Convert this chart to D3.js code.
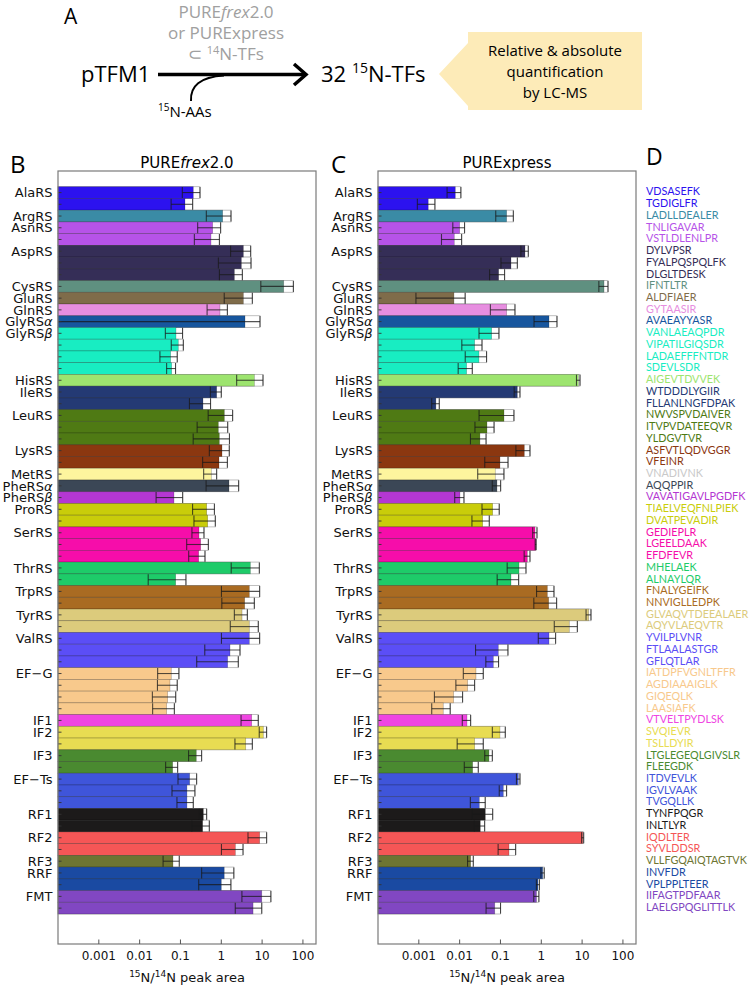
<!DOCTYPE html>
<html><head><meta charset="utf-8">
<script src="https://cdn.jsdelivr.net/npm/d3@7"></script>
<style>body{margin:0;background:#fff}</style>
</head><body>
<svg id="chart" width="749" height="988"></svg>
<script>
// ---------------- DATA ----------------
const proteins = ["AlaRS","ArgRS","AsnRS","AspRS","CysRS","GluRS","GlnRS","GlyRSα","GlyRSβ","HisRS","IleRS","LeuRS","LysRS","MetRS","PheRSα","PheRSβ","ProRS","SerRS","ThrRS","TrpRS","TyrRS","ValRS","EF−G","IF1","IF2","IF3","EF−Ts","RF1","RF2","RF3","RRF","FMT"];
const proteinColors = ["#2c12ef","#3a8ba5","#b653e8","#352e57","#5f9080","#7f6c4a","#e78ee0","#17569e","#18edc2","#9de46f","#243a74","#4f7a14","#8b3710","#fdf59e","#3b4756","#b437d2","#c9cd0a","#f60daa","#1ecb69","#a96b22","#dccb7c","#5b4ef6","#f8c98c","#ef45e2","#e8dc52","#4a8a30","#3f55da","#1c1a1a","#f55656","#6d7532","#1a4aa2","#8147c2"];
const peptides = ["VDSASEFK","TGDIGLFR","LADLLDEALER","TNLIGAVAR","VSTLDLENLPR","DYLVPSR","FYALPQSPQLFK","DLGLTDESK","IFNTLTR","ALDFIAER","GYTAASIR","AVAEAYYASR","VANLAEAQPDR","VIPATILGIQSDR","LADAEFFFNTDR","SDEVLSDR","AIGEVTDVVEK","WTDDDLYGIIR","FLLANLNGFDPAK","NWVSPVDAIVER","ITVPVDATEEQVR","YLDGVTVR","ASFVTLQDVGGR","VFEINR","VNADIVNK","AQQPPIR","VAVATIGAVLPGDFK","TIAELVEQFNLPIEK","DVATPEVADIR","GEDIEPLR","LGEELDAAK","EFDFEVR","MHELAEK","ALNAYLQR","FNALYGEIFK","NNVIGLLEDPK","GLVAQVTDEEALAER","AQYVLAEQVTR","YVILPLVNR","FTLAALASTGR","GFLQTLAR","IATDPFVGNLTFFR","AGDIAAAIGLK","GIQEQLK","LAASIAFK","VTVELTPYDLSK","SVQIEVR","TSLLDYIR","LTGLEGEQLGIVSLR","FLEEGDK","ITDVEVLK","IGVLVAAK","TVGQLLK","TYNFPQGR","INLTLYR","IQDLTER","SYVLDDSR","VLLFGQAIQTAGTVK","INVFDR","VPLPPLTEER","IIFAGTPDFAAR","LAELGPQGLITTLK"];
const peptideProtein = [0,0,1,2,2,3,3,3,4,5,6,7,8,8,8,8,9,10,10,11,11,11,12,12,13,14,15,16,16,17,17,17,18,18,19,19,20,20,21,21,21,22,22,22,22,23,24,24,25,25,26,26,26,27,27,28,28,29,30,30,31,31];
const peptideTextColors = {24:"#c9c9c9"};
// PUREfrex2.0 15N/14N peak area ratio (mean) and error
const frexValues = [0.206,0.129,1.08,0.614,0.559,3.47,3.10,2.09,33.8,3.47,0.929,3.81,0.0776,0.0885,0.0574,0.0608,6.45,0.770,0.356,1.187,0.846,0.895,1.04,0.879,0.570,1.544,0.0693,0.438,0.464,0.284,0.312,0.279,5.15,0.0762,4.86,3.74,3.22,4.86,4.86,1.634,1.43,0.0596,0.0553,0.0485,0.0458,5.55,10.7,3.96,0.244,0.0643,0.168,0.144,0.144,0.363,0.349,8.71,2.21,0.0655,1.18,1.0,9.8,6.0];
const frexErrors = [0.095,0.070,0.65,0.35,0.34,1.78,2.25,1.19,24.5,2.29,0.48,5.07,0.035,0.029,0.026,0.015,4.07,0.23,0.19,0.71,0.59,0.69,0.53,0.53,0.20,1.12,0.044,0.24,0.25,0.093,0.17,0.12,3.4,0.06,3.85,2.71,1.13,3.2,3.85,1.24,1.18,0.032,0.028,0.028,0.025,2.5,2.2,1.8,0.086,0.021,0.081,0.082,0.062,0.075,0.16,4.2,1.2,0.028,0.85,0.72,6.6,3.8];
// PURExpress
const expressValues = [0.00782,0.0017,0.1416,0.0100,0.00739,0.3986,0.181,0.0902,34.4,0.00725,0.1416,1.544,0.0608,0.0233,0.0297,0.0148,8.08,0.2585,0.00262,0.1219,0.0467,0.0314,0.3837,0.0972,0.0747,0.082,0.01017,0.0643,0.0366,0.701,0.728,0.4546,0.284,0.181,1.406,1.516,14.49,4.86,1.544,0.0885,0.0668,0.0251,0.01568,0.00711,0.00397,0.0151,0.0972,0.0233,0.0522,0.0208,0.2735,0.1173,0.0303,0.0425,0.032,10.33,0.1616,0.0186,1.08,0.828,0.763,0.0724];
const expressErrors = [0.0029,0.00078,0.065,0.0032,0.0038,0.082,0.078,0.036,8.7,0.0064,0.085,0.88,0.031,0.012,0.016,0.0056,0.8,0.042,0.00055,0.092,0.023,0.013,0.145,0.056,0.047,0.019,0.0026,0.029,0.0166,0.084,0.02,0.074,0.138,0.098,0.64,0.86,2.0,2.78,0.7,0.064,0.023,0.0128,0.0076,0.0047,0.0019,0.0035,0.034,0.0146,0.011,0.0078,0.027,0.024,0.012,0.022,0.009,0.6,0.074,0.003,0.1,0.07,0.11,0.028];
const xTickValues = [0.001,0.01,0.1,1,10,100];
const xTickLabels = ["0.001","0.01","0.1","1","10","100"];
const xDomain = [1e-4, 209];

// ---------------- DRAW ----------------
const svg = d3.select("#chart");
svg.append("rect").attr("width",749).attr("height",988).attr("fill","#fff");
const sans = "'Open Sans', 'Liberation Sans', sans-serif";
const dv = "'DejaVu Sans', sans-serif";

// ---- Panel A ----
const A = svg.append("g").attr("font-family", sans);
A.append("text").attr("x",64).attr("y",24).attr("font-size",21).text("A");
A.append("text").attr("x",81).attr("y",82).attr("font-size",22).text("pTFM1");
A.append("line").attr("x1",158).attr("y1",74.5).attr("x2",305).attr("y2",74.5).attr("stroke","#000").attr("stroke-width",3.5);
A.append("path").attr("d","M294,64 L306,74.5 L294,85").attr("fill","none").attr("stroke","#000").attr("stroke-width",3.5);
A.append("path").attr("d","M191,101 C190,86 200,77 224,75.5").attr("fill","none").attr("stroke","#000").attr("stroke-width",2);
const aa = A.append("text").attr("x",158).attr("y",117).attr("font-size",15);
aa.append("tspan").attr("font-size",10).attr("dy",-6).text("15");
aa.append("tspan").attr("dy",6).text("N-AAs");
const g1 = A.append("text").attr("x",226).attr("y",18).attr("font-size",17).attr("fill","#a0a0a0").attr("text-anchor","middle");
g1.append("tspan").text("PURE"); g1.append("tspan").attr("font-style","italic").text("frex"); g1.append("tspan").text("2.0");
A.append("text").attr("x",226).attr("y",39).attr("font-size",17).attr("fill","#a0a0a0").attr("text-anchor","middle").text("or PURExpress");
const g3 = A.append("text").attr("x",226).attr("y",60).attr("font-size",17).attr("fill","#a0a0a0").attr("text-anchor","middle");
g3.append("tspan").text("⊂ "); g3.append("tspan").attr("font-size",11).attr("dy",-6).text("14"); g3.append("tspan").attr("dy",6).text("N-TFs");
const t32 = A.append("text").attr("x",321).attr("y",82).attr("font-size",22);
t32.append("tspan").text("32 "); t32.append("tspan").attr("font-size",14).attr("dy",-9).text("15"); t32.append("tspan").attr("dy",9).text("N-TFs");
A.append("path").attr("d","M468,32 H642 V110 H468 V106 L439,74 L468,43 Z").attr("fill","#fdebb8");
[["Relative & absolute",56],["quantification",77],["by LC-MS",98]].forEach(([t,yy])=>{
  A.append("text").attr("x",555).attr("y",yy).attr("font-size",15).attr("text-anchor","middle").text(t);
});

// ---- Panels B & C ----
const rows = d3.range(peptides.length);
const y = d3.scaleBand().domain(rows).range([186.7, 914.0]).padding(0);
const frameTop = 171, frameBottom = 944;
const firstRows = proteins.map((p,k)=>peptideProtein.indexOf(k));

const panels = [
  {letter:"B", lx:10, title:[["PURE",""],["frex","italic"],["2.0",""]], vals:frexValues, errs:frexErrors, r:[58,316]},
  {letter:"C", lx:331, title:[["PURExpress",""]], vals:expressValues, errs:expressErrors, r:[378,636]}
];

panels.forEach(P=>{
  const x = d3.scaleLog().domain(xDomain).range(P.r);
  const x0 = P.r[0];
  const g = svg.append("g");
  g.append("text").attr("x",P.lx).attr("y",173).attr("font-family",sans).attr("font-size",24).text(P.letter);
  const tt = g.append("text").attr("x",(P.r[0]+P.r[1])/2).attr("y",168).attr("text-anchor","middle").attr("font-family",dv).attr("font-size",15);
  P.title.forEach(([s,st])=>tt.append("tspan").attr("font-style",st||null).text(s));

  const lo = i => Math.max(P.vals[i]-P.errs[i], xDomain[0]);
  g.selectAll(".ub").data(rows).join("rect")
    .attr("x",x0).attr("y",i=>y(i)).attr("width",i=>x(P.vals[i]+P.errs[i])-x0).attr("height",y.bandwidth())
    .attr("fill","#fff").attr("stroke","#b0b0b0").attr("stroke-width",0.8);
  g.selectAll(".bar").data(rows).join("rect")
    .attr("x",x0).attr("y",i=>y(i)).attr("width",i=>x(P.vals[i])-x0).attr("height",y.bandwidth())
    .attr("fill",i=>proteinColors[peptideProtein[i]]).attr("stroke","rgba(0,0,0,0.28)").attr("stroke-width",0.7);
  const cy = i => y(i)+y.bandwidth()/2;
  g.selectAll(".eb").data(rows).join("line")
    .attr("x1",i=>x(lo(i))).attr("x2",i=>x(P.vals[i]+P.errs[i])).attr("y1",cy).attr("y2",cy)
    .attr("stroke","rgba(25,25,25,0.75)").attr("stroke-width",1.1);
  g.selectAll(".capR").data(rows).join("line")
    .attr("x1",i=>x(P.vals[i]+P.errs[i])).attr("x2",i=>x(P.vals[i]+P.errs[i]))
    .attr("y1",i=>cy(i)-5.5).attr("y2",i=>cy(i)+5.5)
    .attr("stroke","rgba(25,25,25,0.75)").attr("stroke-width",1.1);
  g.selectAll(".capL").data(rows.filter(i=>P.vals[i]-P.errs[i]>xDomain[0])).join("line")
    .attr("x1",i=>x(lo(i))).attr("x2",i=>x(lo(i)))
    .attr("y1",i=>cy(i)-5.5).attr("y2",i=>cy(i)+5.5)
    .attr("stroke","rgba(25,25,25,0.75)").attr("stroke-width",1.1);
  g.selectAll(".yt").data(rows).join("line")
    .attr("x1",x0).attr("x2",x0+3.5).attr("y1",cy).attr("y2",cy)
    .attr("stroke","#333").attr("stroke-width",0.9);
  const lab = g.selectAll(".yl").data(proteins).join("text")
    .attr("x",x0-5.5).attr("y",(d,k)=>cy(firstRows[k])).attr("dy","0.36em")
    .attr("text-anchor","end").attr("font-family",dv).attr("font-size",13).attr("fill","#111");
  lab.each(function(d){
    const t = d3.select(this);
    const last = d.slice(-1);
    if(last==="α"||last==="β"){ t.append("tspan").text(d.slice(0,-1)); t.append("tspan").attr("font-style","italic").text(last); }
    else t.text(d);
  });
  g.append("rect").attr("x",x0).attr("y",frameTop).attr("width",P.r[1]-x0).attr("height",frameBottom-frameTop)
    .attr("fill","none").attr("stroke","#7a7a7a").attr("stroke-width",1.2);
  g.selectAll(".xt").data(xTickValues).join("line")
    .attr("x1",d=>x(d)).attr("x2",d=>x(d)).attr("y1",frameBottom).attr("y2",frameBottom-4.5)
    .attr("stroke","#555").attr("stroke-width",1);
  g.selectAll(".xl").data(xTickValues).join("text")
    .attr("x",d=>x(d)).attr("y",959.5).attr("text-anchor","middle").attr("font-family",dv).attr("font-size",12).attr("fill","#111")
    .text((d,k)=>xTickLabels[k]);
  const xl = g.append("text").attr("x",(P.r[0]+P.r[1])/2).attr("y",982).attr("text-anchor","middle").attr("font-family",dv).attr("font-size",13).attr("fill","#111");
  xl.append("tspan").attr("font-size",9).attr("dy",-5).text("15");
  xl.append("tspan").attr("dy",5).text("N/");
  xl.append("tspan").attr("font-size",9).attr("dy",-5).text("14");
  xl.append("tspan").attr("dy",5).text("N peak area");
});

// ---- Panel D ----
svg.append("text").attr("x",646).attr("y",165).attr("font-family",sans).attr("font-size",23).text("D");
svg.selectAll(".pep").data(rows).join("text")
  .attr("x",646).attr("y",i=>y(i)+y.bandwidth()/2-1).attr("dy","0.36em")
  .attr("font-family","Lato, 'Open Sans', sans-serif").attr("font-size",10.8)
  .attr("fill",i=>peptideTextColors[i]||proteinColors[peptideProtein[i]])
  .text(i=>peptides[i]);
</script>
</body></html>
